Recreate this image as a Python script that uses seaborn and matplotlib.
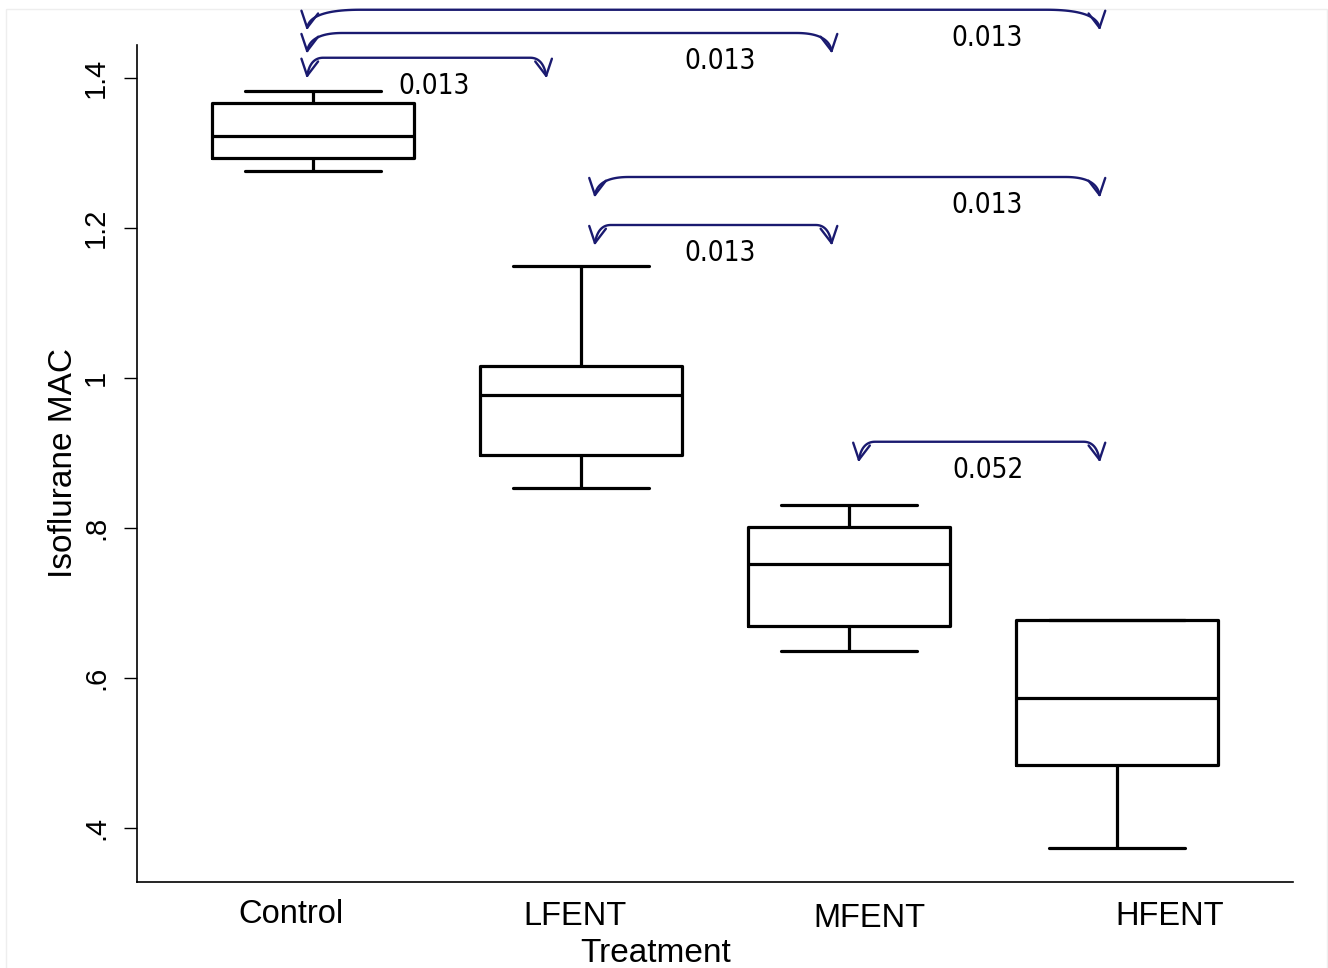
import numpy as np
import pandas as pd
import matplotlib
matplotlib.use("Agg")
import matplotlib.pyplot as plt
import seaborn as sns
from matplotlib.transforms import ScaledTranslation
from matplotlib.patches import Rectangle

# five-number summaries (min, Q1, median, Q3, max)
groups = ["Control", "LFENT", "MFENT", "HFENT"]
control = [1.276, 1.293, 1.323, 1.367, 1.383]
lfent = [0.853, 0.897, 0.977, 1.016, 1.149]
mfent = [0.636, 0.669, 0.752, 0.801, 0.831]
hfent = [0.373, 0.484, 0.573, 0.677, 0.677]

# pairwise comparisons
pair_a = ["Control", "Control", "Control", "LFENT", "LFENT", "MFENT"]
pair_b = ["LFENT", "MFENT", "HFENT", "HFENT", "MFENT", "HFENT"]
bracket_y = [1.427, 1.460, 1.491, 1.268, 1.204, 0.915]
pvals = ["0.013", "0.013", "0.013", "0.013", "0.013", "0.052"]

yticks = [0.4, 0.6, 0.8, 1.0, 1.2, 1.4]
ytick_labels = [".4", ".6", ".8", "1", "1.2", "1.4"]

df = pd.DataFrame({
    "Treatment": np.repeat(groups, 5),
    "MAC": control + lfent + mfent + hfent,
})

sns.set_style("white")
plt.rcParams["font.family"] = ["Liberation Sans", "DejaVu Sans"]
plt.rcParams.update({"text.color": "black", "axes.labelcolor": "black",
                     "xtick.color": "black", "ytick.color": "black"})

fig = plt.figure(figsize=(13.28, 9.68), dpi=100)
ax = fig.add_axes([137 / 1328, 86 / 968, 1156 / 1328, 837 / 968])

sns.boxplot(
    data=df, x="Treatment", y="MAC", order=groups, whis=(0, 100),
    width=0.757, fill=False, color="black", linewidth=2.3,
    capwidths=0.51, ax=ax,
)

ax.set_xlim(-0.657, 3.657)
ax.set_ylim(0.328, 1.444)
sns.despine(ax=ax)
for s in ["left", "bottom"]:
    ax.spines[s].set_linewidth(1.2)
    ax.spines[s].set_color("black")

ax.set_yticks(yticks)
ax.set_yticklabels(ytick_labels)
ax.tick_params(axis="y", length=9.5, width=1, color="black", pad=10,
               labelsize=21, labelrotation=90, left=True, labelcolor="black")
for lab in ax.get_yticklabels():
    lab.set_va("center")

ax.set_xticks(range(len(groups)))
ax.set_xticklabels(groups)
ax.tick_params(axis="x", length=0, pad=12, labelsize=23.5, labelcolor="black")
# the original labels sit slightly off their boxes
nudges = [(-22, 0), (-6, -2), (20, -4), (53, -2)]
for lab, (dx, dy) in zip(ax.get_xticklabels(), nudges):
    lab.set_transform(lab.get_transform() + ScaledTranslation(dx / 100, dy / 100, fig.dpi_scale_trans))

ax.set_xlabel("Treatment", fontsize=24, color="black")
ax.xaxis.set_label_coords(0.449, -0.067)
ax.set_ylabel("Isoflurane MAC", fontsize=24, color="black")
ax.yaxis.set_label_coords(-0.050, 0.50)

# bracket end nudges (data units) relative to category centres
left_nudge = {"Control": -0.022, "LFENT": 0.052, "MFENT": 0.037}
right_nudge = {("Control", "LFENT"): -0.13}
navy = "#1a1a70"


def bezier(p0, c, p2, n=25):
    t = np.linspace(0, 1, n)[:, None]
    return (1 - t) ** 2 * p0 + 2 * (1 - t) * t * c + t ** 2 * p2


def bracket(a, b, level, label):
    xa = groups.index(a) + left_nudge[a]
    xb = groups.index(b) + right_nudge.get((a, b), -0.065)
    (pa, py), (pb, _) = ax.transData.transform([(xa, level), (xb, level)])
    depth = 18
    w = 0.067 * (pb - pa)
    left = bezier(np.array([pa, py - depth]), np.array([pa + 3, py]), np.array([pa + w, py]))
    right = bezier(np.array([pb - w, py]), np.array([pb - 3, py]), np.array([pb, py - depth]))
    path = np.vstack([left, right])
    inv = ax.transData.inverted()
    d = inv.transform(path)
    ax.plot(d[:, 0], d[:, 1], color=navy, lw=1.7, clip_on=False, solid_capstyle="round")
    # open arrow heads at both tips
    for tip, ctrl in [((pa, py - depth), (pa + 3, py)), ((pb, py - depth), (pb - 3, py))]:
        tip = np.array(tip)
        back = np.array(ctrl) - tip
        back = back / np.hypot(*back) * 18
        for ang in (np.radians(28), -np.radians(28)):
            r = np.array([[np.cos(ang), -np.sin(ang)], [np.sin(ang), np.cos(ang)]])
            end = tip + r @ back
            seg = inv.transform(np.vstack([end, tip]))
            ax.plot(seg[:, 0], seg[:, 1], color=navy, lw=1.7, clip_on=False)
    tx, ty = inv.transform((pb - 112, py - 28))
    ax.text(tx, ty, label, ha="center", va="center", fontsize=20, color="black",
            family="DejaVu Sans", fontstretch="condensed", clip_on=False)


for a, b, lvl, p in zip(pair_a, pair_b, bracket_y, pvals):
    bracket(a, b, lvl, p)

fig.add_artist(Rectangle((6 / 1328, -0.01), 1321 / 1328, 959 / 968 + 0.01,
                         transform=fig.transFigure, fill=False,
                         edgecolor="#eeeeee", lw=1, zorder=-1))

fig.savefig("out.png", dpi=100)
